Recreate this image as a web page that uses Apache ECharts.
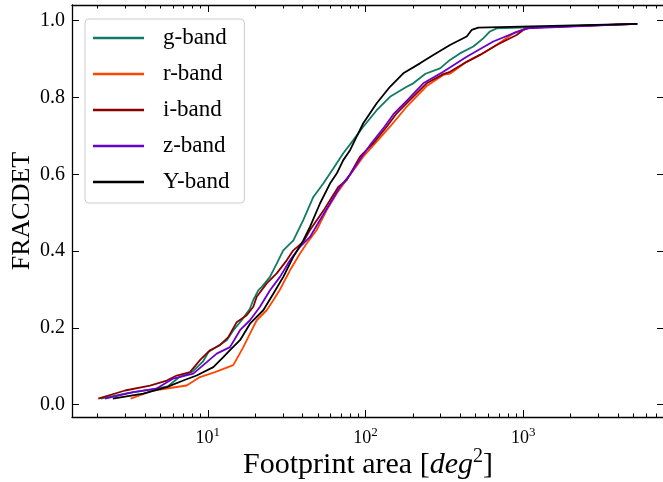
<!DOCTYPE html>
<html><head><meta charset="utf-8">
<script src="https://cdn.jsdelivr.net/npm/echarts@6/dist/echarts.min.js"></script>
<style>html,body{margin:0;padding:0;background:#fff}#c{width:663px;height:482px}</style>
</head><body><div id="c"></div>
<script>
const bands = ['g-band', 'r-band', 'i-band', 'z-band', 'Y-band'];
const bandColors = ['#117a65', '#ff4500', '#8b0000', '#6a00cc', '#000000'];

const gArea = [2.1, 3.1, 4.4, 5.6, 6.6, 8.0, 9.3, 10.1, 13.2, 14.6, 16.4, 18.5, 19.4, 20.9, 22.0, 24.8, 27.4, 30.1, 34.9, 40.3, 46.7, 54.0, 62.5, 72.3, 83.7, 96.8, 117.8, 143, 182.5, 201, 240, 297, 343.5, 397, 483, 558, 616, 679, 5290];
const gFrac = [0.016, 0.030, 0.040, 0.048, 0.072, 0.086, 0.112, 0.137, 0.168, 0.195, 0.220, 0.250, 0.272, 0.298, 0.307, 0.333, 0.368, 0.402, 0.428, 0.481, 0.541, 0.576, 0.615, 0.655, 0.689, 0.724, 0.767, 0.802, 0.828, 0.837, 0.862, 0.876, 0.898, 0.915, 0.933, 0.954, 0.972, 0.980, 0.992];

const rArea = [3.24, 4.51, 7.35, 8.92, 11.11, 14.51, 16.8, 18.52, 20.43, 23.64, 26.02, 28.7, 33.21, 38.43, 42.38, 49.06, 56.75, 65.7, 74.1, 96.8, 143, 182.5, 201, 244.4, 311.5, 343.5, 438.3, 532.3, 679, 887, 1104, 5290];
const rFrac = [0.016, 0.037, 0.050, 0.072, 0.085, 0.103, 0.150, 0.185, 0.220, 0.246, 0.272, 0.300, 0.350, 0.394, 0.420, 0.455, 0.507, 0.550, 0.580, 0.646, 0.724, 0.776, 0.794, 0.830, 0.859, 0.862, 0.893, 0.911, 0.937, 0.970, 0.982, 0.992];

const iArea = [2.02, 2.99, 4.30, 5.49, 6.35, 7.71, 8.92, 10.33, 11.95, 13.49, 15.25, 17.65, 19.44, 20.43, 23.64, 27.35, 31.65, 34.85, 40.33, 44.47, 55, 67.2, 76, 92.3, 112.1, 136.3, 157.8, 191.5, 244.4, 311.5, 343.5, 438.3, 532.3, 679, 909, 1001, 1104, 5290];
const iFrac = [0.016, 0.037, 0.050, 0.063, 0.076, 0.085, 0.116, 0.142, 0.155, 0.176, 0.215, 0.233, 0.255, 0.281, 0.316, 0.342, 0.376, 0.402, 0.424, 0.455, 0.510, 0.567, 0.585, 0.646, 0.681, 0.724, 0.759, 0.794, 0.837, 0.861, 0.867, 0.893, 0.911, 0.937, 0.963, 0.976, 0.982, 0.992];

const zArea = [2.23, 3.37, 4.74, 6.04, 8.09, 9.36, 11.39, 13.83, 16.01, 18.52, 21.43, 24.8, 28.7, 33.21, 38.43, 44.47, 51.45, 59.55, 68.9, 80, 94.6, 109, 132, 152, 185, 232.6, 311.5, 438.3, 646, 866, 1052, 5290];
const zFrac = [0.016, 0.033, 0.042, 0.068, 0.081, 0.103, 0.133, 0.150, 0.194, 0.220, 0.255, 0.298, 0.333, 0.376, 0.411, 0.437, 0.481, 0.524, 0.567, 0.600, 0.646, 0.681, 0.724, 0.759, 0.794, 0.837, 0.867, 0.906, 0.946, 0.967, 0.980, 0.992];

const yArea = [2.5, 3.90, 5.49, 6.99, 8.50, 10.84, 12.54, 13.83, 16.01, 18.52, 22.49, 26.02, 30.12, 34.85, 40.33, 44.47, 51.45, 59.55, 65.7, 72.3, 79.8, 87.9, 96.8, 117.8, 143.0, 173.7, 221.6, 269.2, 343.5, 438.3, 471.4, 519, 5290];
const yFrac = [0.016, 0.029, 0.046, 0.063, 0.076, 0.098, 0.124, 0.142, 0.168, 0.211, 0.246, 0.289, 0.333, 0.385, 0.428, 0.463, 0.524, 0.576, 0.602, 0.637, 0.663, 0.698, 0.733, 0.785, 0.828, 0.863, 0.889, 0.911, 0.937, 0.959, 0.976, 0.982, 0.992];

const xMajorTicks = [10, 100, 1000];
const xMinorTicks = [2, 3, 4, 5, 6, 7, 8, 9, 20, 30, 40, 50, 60, 70, 80, 90, 200, 300, 400, 500, 600, 700, 800, 900, 2000, 3000, 4000, 5000, 6000, 7000];
const yTicks = [0, 0.2, 0.4, 0.6, 0.8, 1.0];

const XMIN = 1.377, XMAX = 7816, YMIN = -0.032, YMAX = 1.041;
const FONT = 'Liberation Serif';

const areas = [gArea, rArea, iArea, zArea, yArea];
const fracs = [gFrac, rFrac, iFrac, zFrac, yFrac];

const chart = echarts.init(document.getElementById('c'), null, {renderer: 'canvas'});

function xAxisCfg(pos, major, show) {
  const ticks = major ? xMajorTicks : xMinorTicks;
  const a = {
    type: 'log', logBase: 10, min: XMIN, max: XMAX, position: pos, gridIndex: 0,
    axisLine: {show: major, onZero: false, lineStyle: {color: '#000', width: 1.3}},
    axisTick: {show: true, inside: true, length: major ? 7 : 3.5, customValues: ticks, lineStyle: {color: '#000', width: 1}},
    axisLabel: {show: false},
    splitLine: {show: false},
    minorTick: {show: false}
  };
  if (show) {
    a.axisLabel = {
      show: true, customValues: xMajorTicks, margin: 9, color: '#000', fontFamily: FONT, fontSize: 18,
      formatter: v => '10{s|' + Math.round(Math.log10(v)) + '}',
      rich: {s: {fontSize: 13, fontFamily: FONT, color: '#000', padding: [0, 0, 12, 0]}}
    };
    a.name = 'Footprint area [{i|deg}{s|2}]';
    a.nameLocation = 'middle';
    a.nameGap = 30;
    a.nameMoveOverlap = false;
    a.nameTextStyle = {
      color: '#000', fontFamily: FONT, fontSize: 30,
      rich: {
        i: {fontStyle: 'italic', fontFamily: FONT, fontSize: 30, color: '#000'},
        s: {fontFamily: FONT, fontSize: 20, color: '#000', padding: [0, 0, 16, 0]}
      }
    };
  }
  return a;
}

function yAxisCfg(pos, show) {
  const a = {
    type: 'value', min: YMIN, max: YMAX, position: pos, gridIndex: 0,
    axisLine: {show: true, onZero: false, lineStyle: {color: '#000', width: 1.3}},
    axisTick: {show: true, inside: true, length: 7, customValues: yTicks, lineStyle: {color: '#000', width: 1}},
    axisLabel: {show: false},
    splitLine: {show: false}
  };
  if (show) {
    a.axisLabel = {show: true, customValues: yTicks, margin: 7, color: '#000', fontFamily: FONT, fontSize: 20,
      formatter: v => v.toFixed(1)};
    a.name = 'FRACDET';
    a.nameLocation = 'middle';
    a.nameGap = 37;
    a.nameMoveOverlap = false;
    a.nameRotate = 90;
    a.nameTextStyle = {color: '#000', fontFamily: FONT, fontSize: 26};
  }
  return a;
}

const series = bands.map((b, k) => ({
  name: b, type: 'line', xAxisIndex: 0, yAxisIndex: 0,
  data: areas[k].map((x, j) => [x, fracs[k][j]]),
  showSymbol: false, symbol: 'none',
  lineStyle: {color: bandColors[k], width: 1.8},
  itemStyle: {color: bandColors[k]},
  clip: true, z: 2 + k
}));

chart.setOption({
  animation: false,
  backgroundColor: '#fff',
  grid: {left: 72, right: -1, top: 5, bottom: 65, containLabel: false, outerBoundsMode: 'none'},
  xAxis: [xAxisCfg('bottom', true, true), xAxisCfg('bottom', false, false), xAxisCfg('top', true, false), xAxisCfg('top', false, false)],
  yAxis: [yAxisCfg('left', true), yAxisCfg('right', false)],
  legend: {
    data: bands, orient: 'vertical', left: 85, top: 19, icon: 'rect',
    itemWidth: 51, itemHeight: 2.5, itemGap: 10,
    padding: [6, 15, 8, 8],
    backgroundColor: 'rgba(255,255,255,0.8)', borderColor: '#cccccc', borderWidth: 1, borderRadius: 4,
    textStyle: {fontFamily: FONT, fontSize: 23, color: '#000', padding: [0, 0, 0, 14], lineHeight: 26},
    selectedMode: false, z: 10
  },
  series: series
});
</script></body></html>
